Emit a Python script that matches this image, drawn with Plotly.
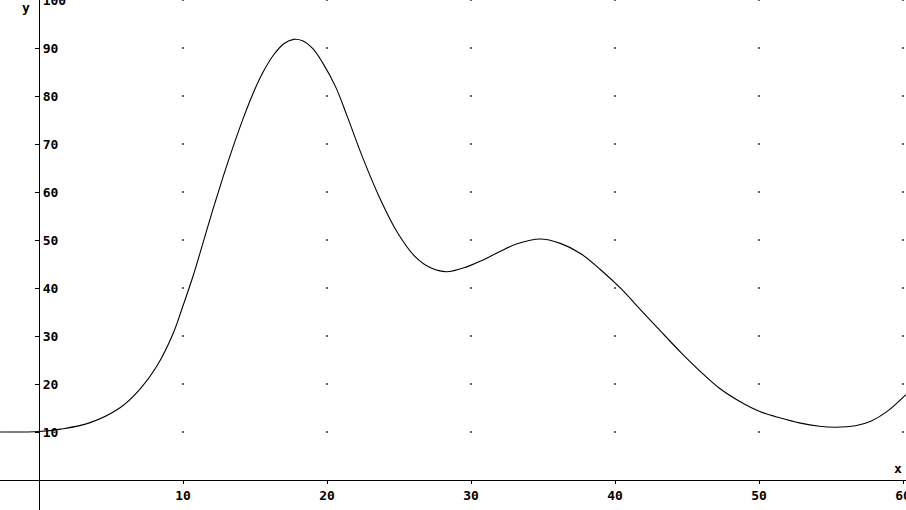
import plotly.graph_objects as go

# curve data
x_vals = [-2.7, 0.0, 1.5, 3.5, 5.6, 7.0, 8.2, 9.3, 10.0, 10.7, 11.4, 12.1, 12.8, 13.5,
          14.2, 14.9, 15.6, 16.3, 17.0, 17.7, 18.3, 19.0, 19.7, 20.6, 21.4, 22.5, 23.7,
          24.9, 26.1, 27.2, 28.3, 29.7, 30.8, 32.0, 33.2, 34.8, 36.2, 37.6, 39.0, 40.4,
          41.8, 43.2, 44.6, 45.9, 47.3, 48.7, 50.1, 51.5, 52.8, 54.2, 55.3, 56.7, 57.8,
          58.9, 60.2]
y_vals = [10.0, 10.1, 10.6, 11.9, 15.0, 18.9, 23.8, 30.4, 36.3, 42.5, 49.5, 56.6, 63.3, 69.6,
          75.5, 80.8, 85.2, 88.6, 90.9, 91.8, 91.5, 89.9, 86.9, 81.9, 75.8, 67.0, 58.5,
          51.5, 46.6, 44.2, 43.4, 44.4, 45.8, 47.6, 49.2, 50.2, 49.3, 47.2, 43.8, 39.9,
          35.4, 30.9, 26.5, 22.7, 19.0, 16.3, 14.2, 12.9, 11.9, 11.2, 11.0, 11.3, 12.3,
          14.3, 17.8]

x_ticks = [10, 20, 30, 40, 50, 60]
y_ticks = [10, 20, 30, 40, 50, 60, 70, 80, 90, 100]

font = dict(family="DejaVu Sans Mono", size=13, color="black", weight="bold")

gx = [xt for xt in x_ticks for yt in y_ticks]
gy = [yt for xt in x_ticks for yt in y_ticks]

fig = go.Figure()
fig.add_trace(go.Scatter(x=gx, y=gy, mode="markers",
                         marker=dict(symbol="square", size=1.6, color="black"),
                         hoverinfo="skip", showlegend=False))
fig.add_trace(go.Scatter(x=x_vals, y=y_vals, mode="lines",
                         line=dict(color="black", width=1.1, shape="spline", smoothing=1.0),
                         showlegend=False))

fig.update_layout(
    width=906, height=510,
    margin=dict(l=0, r=0, t=0, b=0, autoexpand=False),
    paper_bgcolor="white", plot_bgcolor="white",
    xaxis=dict(range=[-2.708, 60.208], showgrid=False, zeroline=False,
               showline=True, linecolor="black", linewidth=1.2,
               anchor="free", position=30 / 510, automargin=False,
               tickmode="array", tickvals=x_ticks, ticktext=[str(v) for v in x_ticks],
               ticks="outside", ticklen=3, tickcolor="black", tickwidth=1,
               tickfont=font, ticklabeloverflow="allow"),
    yaxis=dict(range=[-6.25, 100], showgrid=False, zeroline=False,
               showline=True, linecolor="black", linewidth=1.2,
               anchor="free", position=39 / 906, side="right", automargin=False,
               tickmode="array", tickvals=y_ticks, ticktext=[str(v) for v in y_ticks],
               ticks="inside", ticklen=4, tickcolor="black", tickwidth=1,
               tickfont=font, ticklabeloverflow="allow"),
    annotations=[
        dict(x=59.65, y=2.5, text="x", showarrow=False, font=font, xanchor="center", yanchor="middle"),
        dict(x=-0.9, y=98.5, text="y", showarrow=False, font=font, xanchor="center", yanchor="middle"),
    ],
)

fig.write_html("out.html", config={"displayModeBar": False},
               post_script="document.body.style.margin='0';")
